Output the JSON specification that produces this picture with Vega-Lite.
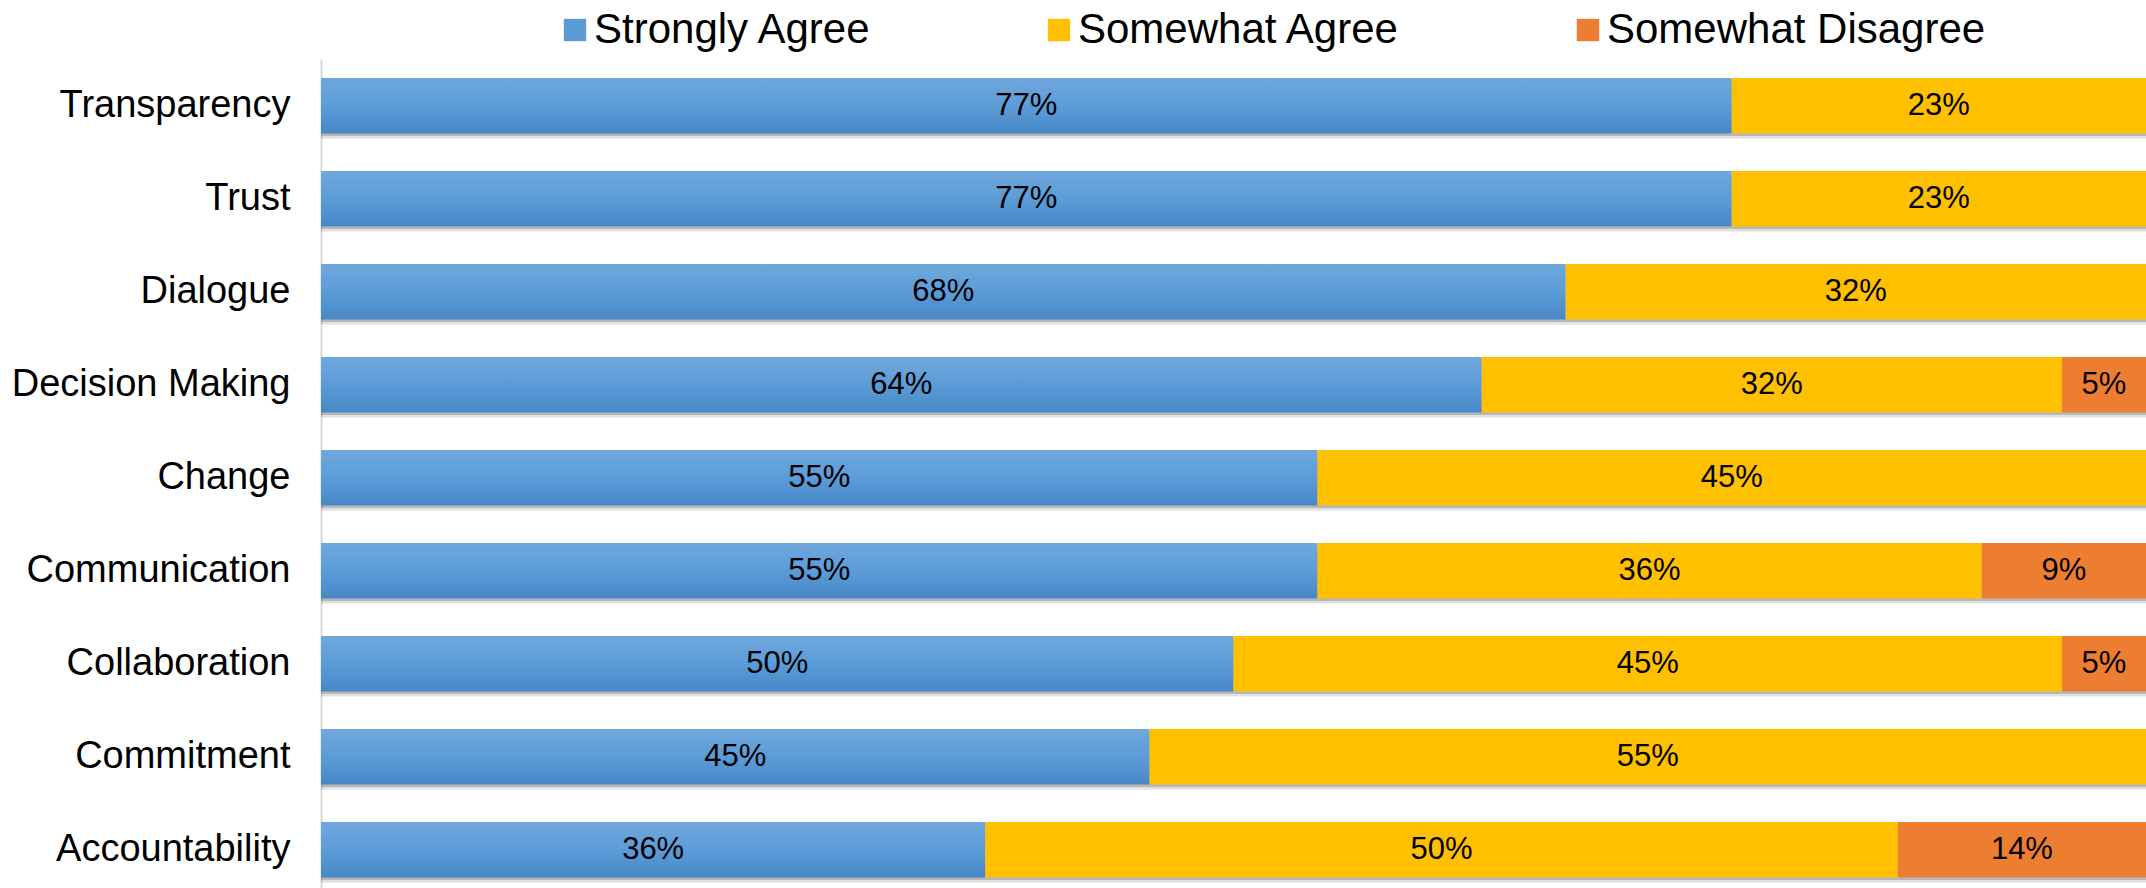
{
  "$schema": "https://vega.github.io/schema/vega-lite/v6.json",
  "width": 1825,
  "height": 829,
  "autosize": "none",
  "padding": {"left": 321, "top": 59, "right": 0, "bottom": 0},
  "background": "white",
  "config": {"view": {"stroke": null}, "font": "Liberation Sans"},
  "data": {"values": [
    {"item": "Transparency", "response": "Strongly Agree", "rank": 1, "value": 0.773},
    {"item": "Transparency", "response": "Somewhat Agree", "rank": 2, "value": 0.227},
    {"item": "Trust", "response": "Strongly Agree", "rank": 1, "value": 0.773},
    {"item": "Trust", "response": "Somewhat Agree", "rank": 2, "value": 0.227},
    {"item": "Dialogue", "response": "Strongly Agree", "rank": 1, "value": 0.682},
    {"item": "Dialogue", "response": "Somewhat Agree", "rank": 2, "value": 0.318},
    {"item": "Decision Making", "response": "Strongly Agree", "rank": 1, "value": 0.636},
    {"item": "Decision Making", "response": "Somewhat Agree", "rank": 2, "value": 0.318},
    {"item": "Decision Making", "response": "Somewhat Disagree", "rank": 3, "value": 0.046},
    {"item": "Change", "response": "Strongly Agree", "rank": 1, "value": 0.546},
    {"item": "Change", "response": "Somewhat Agree", "rank": 2, "value": 0.454},
    {"item": "Communication", "response": "Strongly Agree", "rank": 1, "value": 0.546},
    {"item": "Communication", "response": "Somewhat Agree", "rank": 2, "value": 0.364},
    {"item": "Communication", "response": "Somewhat Disagree", "rank": 3, "value": 0.09},
    {"item": "Collaboration", "response": "Strongly Agree", "rank": 1, "value": 0.5},
    {"item": "Collaboration", "response": "Somewhat Agree", "rank": 2, "value": 0.454},
    {"item": "Collaboration", "response": "Somewhat Disagree", "rank": 3, "value": 0.046},
    {"item": "Commitment", "response": "Strongly Agree", "rank": 1, "value": 0.454},
    {"item": "Commitment", "response": "Somewhat Agree", "rank": 2, "value": 0.546},
    {"item": "Accountability", "response": "Strongly Agree", "rank": 1, "value": 0.364},
    {"item": "Accountability", "response": "Somewhat Agree", "rank": 2, "value": 0.5},
    {"item": "Accountability", "response": "Somewhat Disagree", "rank": 3, "value": 0.136}
  ]},
  "transform": [
    {"stack": "value", "groupby": ["item"], "sort": [{"field": "rank", "order": "ascending"}], "as": ["x0", "x1"]}
  ],
  "encoding": {
    "y": {
      "field": "item", "type": "nominal",
      "sort": ["Transparency", "Trust", "Dialogue", "Decision Making", "Change", "Communication", "Collaboration", "Commitment", "Accountability"],
      "scale": {"paddingInner": 0.403, "paddingOuter": 0.158, "align": 0.644, "round": false},
      "axis": {
        "title": null, "ticks": false, "labelFontSize": 38, "labelColor": "#000000",
        "labelFont": "Liberation Sans", "labelPadding": 31, "labelLimit": 0,
        "domainColor": "#d9d9d9", "domainWidth": 2, "grid": false
      }
    },
    "x": {"field": "x0", "type": "quantitative", "scale": {"domain": [0, 1], "nice": false}, "axis": null},
    "x2": {"field": "x1"}
  },
  "layer": [
    {
      "mark": {"type": "bar", "color": "#000000", "opacity": 0.12, "yOffset": 5},
      "encoding": {}
    },
    {
      "mark": {"type": "bar", "color": "#000000", "opacity": 0.18, "yOffset": 2.5},
      "encoding": {}
    },
    {
      "transform": [{"filter": "datum.response === 'Strongly Agree'"}],
      "mark": {
        "type": "bar",
        "color": {
          "gradient": "linear", "x1": 0, "y1": 0, "x2": 0, "y2": 1,
          "stops": [
            {"offset": 0, "color": "#70a8dd"},
            {"offset": 0.5, "color": "#5b9cd8"},
            {"offset": 1, "color": "#4787c7"}
          ]
        }
      },
      "encoding": {}
    },
    {
      "transform": [{"filter": "datum.response !== 'Strongly Agree'"}],
      "mark": {"type": "bar"},
      "encoding": {
        "color": {
          "field": "response", "type": "nominal",
          "scale": {"domain": ["Strongly Agree", "Somewhat Agree", "Somewhat Disagree"], "range": ["#5b9bd5", "#ffc000", "#ed7d31"]},
          "legend": {
            "orient": "none", "direction": "horizontal", "legendX": 233, "legendY": -50,
            "title": null, "symbolType": "square", "symbolSize": 500, "symbolStrokeWidth": 0,
            "labelFontSize": 42, "labelFont": "Liberation Sans", "labelColor": "#000000",
            "labelOffset": -2, "columnPadding": 166, "labelLimit": 0
          }
        }
      }
    },
    {
      "transform": [{"calculate": "(datum.x0 + datum.x1) / 2", "as": "xm"}],
      "mark": {"type": "text", "fontSize": 31, "font": "Liberation Sans", "color": "#000000", "align": "center", "baseline": "middle"},
      "encoding": {
        "x": {"field": "xm", "type": "quantitative"},
        "x2": null,
        "text": {"field": "value", "type": "quantitative", "format": ".0%"}
      }
    }
  ]
}
